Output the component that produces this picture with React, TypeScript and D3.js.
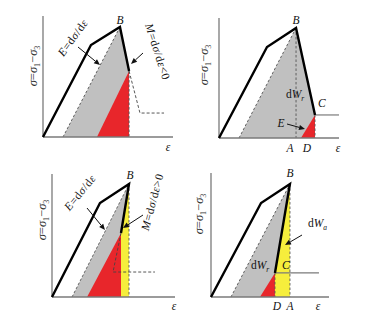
import React from "react";
import * as d3 from "d3";

type Pt = [number, number];

// Panel 1 (post-peak softening, M<0)
const p1Load: Pt[] = [[0, 0], [3.69, 7.6], [5.92, 9.09], [6.62, 5.45]];
const p1Tail: Pt[] = [[6.62, 5.45], [7.46, 1.98], [9.31, 1.98]];
const p1Gray: Pt[] = [[1.54, 0], [5.92, 9.09], [6.62, 5.45], [6.62, 0]];
const p1Red: Pt[] = [[4.15, 0], [6.62, 5.45], [6.62, 0]];
const p1Dash: Pt[][] = [[[1.54, 0], [5.92, 9.09]], [[6.62, 5.45], [6.62, 0]]];

// Panel 2 (B -> C, Class I)
const p2Load: Pt[] = [[0, 0], [4.0, 7.58], [6.42, 9.17], [8.0, 1.92]];
const p2Tail: Pt[] = [[8.0, 1.92], [10, 1.92]];
const p2Gray: Pt[] = [[1.67, 0], [6.42, 9.17], [8.0, 1.92], [8.0, 0]];
const p2Red: Pt[] = [[6.83, 0], [8.0, 1.92], [8.0, 0]];
const p2Dash: Pt[][] = [[[1.67, 0], [6.42, 9.17]], [[6.42, 9.17], [6.42, 0]], [[8.0, 1.92], [8.0, 0]]];

// Panel 3 (post-peak snap-back, M>0)
const p3Load: Pt[] = [[0, 0], [3.9, 7.64], [6.26, 9.19], [5.61, 5.2]];
const p3Tail: Pt[] = [[5.61, 5.2], [4.96, 2.03], [8.37, 2.03]];
const p3Gray: Pt[] = [[1.63, 0], [6.26, 9.19], [5.61, 5.2], [5.61, 0]];
const p3Red: Pt[] = [[2.85, 0], [5.61, 5.2], [5.61, 0]];
const p3Yellow: Pt[] = [[6.26, 9.19], [5.61, 5.2], [5.61, 0], [6.26, 0]];
const p3Dash: Pt[][] = [[[1.63, 0], [6.26, 9.19]], [[6.26, 9.19], [6.26, 0]]];

// Panel 4 (B -> C, Class II)
const p4Load: Pt[] = [[0, 0], [4.24, 7.58], [6.69, 9.11], [5.42, 1.94]];
const p4Tail: Pt[] = [[5.42, 1.94], [9.15, 1.94]];
const p4Gray: Pt[] = [[1.69, 0], [6.69, 9.11], [5.42, 1.94], [5.42, 0]];
const p4Red: Pt[] = [[4.15, 0], [5.42, 1.94], [5.42, 0]];
const p4Yellow: Pt[] = [[6.69, 9.11], [5.42, 1.94], [5.42, 0], [6.69, 0]];
const p4Dash: Pt[][] = [[[1.69, 0], [6.69, 9.11]], [[6.69, 9.11], [6.69, 0]], [[5.42, 1.94], [5.42, 0]]];

const SERIF = "'Liberation Serif', 'DejaVu Serif', serif";
const GRAY = "#c0c0c0";
const RED = "#e8262b";
const YELLOW = "#f6ee3c";
const AXIS = "#7a7a7a";

type Frame = { x0: number; x1: number; y0: number; y1: number };

const frames: Frame[] = [
  { x0: 43, x1: 173, y0: 137, y1: 16 },
  { x0: 219, x1: 339, y0: 138, y1: 18 },
  { x0: 52, x1: 175, y0: 297, y1: 174 },
  { x0: 211, x1: 329, y0: 297, y1: 173 },
];

function makeScales(f: Frame) {
  const x = d3.scaleLinear().domain([0, 10]).range([f.x0, f.x1]);
  const y = d3.scaleLinear().domain([0, 10]).range([f.y0, f.y1]);
  return { x, y };
}

function Arrow({ x1, y1, x2, y2 }: { x1: number; y1: number; x2: number; y2: number }) {
  const a = Math.atan2(y2 - y1, x2 - x1);
  const L = 6, W = 2.6;
  const bx = x2 - L * Math.cos(a), by = y2 - L * Math.sin(a);
  const p = `${x2},${y2} ${bx + W * Math.sin(a)},${by - W * Math.cos(a)} ${bx - W * Math.sin(a)},${by + W * Math.cos(a)}`;
  return (
    <g>
      <line x1={x1} y1={y1} x2={bx} y2={by} stroke="#111" strokeWidth={1} />
      <polygon points={p} fill="#111" />
    </g>
  );
}

function YLabel({ x, y }: { x: number; y: number }) {
  return (
    <text transform={`translate(${x},${y}) rotate(-90)`} textAnchor="middle" fontFamily={SERIF} fontSize={12.5} fill="#333">
      <tspan fontStyle="italic">σ</tspan>=<tspan fontStyle="italic">σ</tspan>
      <tspan fontSize={8} dy={3}>1</tspan>
      <tspan dy={-3}>−</tspan>
      <tspan fontStyle="italic">σ</tspan>
      <tspan fontSize={8} dy={3}>3</tspan>
    </text>
  );
}

function Panel({ f, load, tail, tailDashed, gray, red, yellow, dashes }: {
  f: Frame; load: Pt[]; tail: Pt[]; tailDashed: boolean; gray: Pt[]; red: Pt[]; yellow?: Pt[]; dashes: Pt[][];
}) {
  const { x, y } = makeScales(f);
  const line = d3.line<Pt>().x((d) => x(d[0])).y((d) => y(d[1]));
  const poly = (pts: Pt[]) => line(pts)! + "Z";
  return (
    <g>
      <path d={poly(gray)} fill={GRAY} />
      {yellow && <path d={poly(yellow)} fill={YELLOW} />}
      <path d={poly(red)} fill={RED} />
      {dashes.map((d, i) => (
        <path key={i} d={line(d)!} fill="none" stroke="#555" strokeWidth={0.9} strokeDasharray="2.5,2" />
      ))}
      <path d={line(tail)!} fill="none" stroke={tailDashed ? "#444" : AXIS} strokeWidth={tailDashed ? 0.9 : 1.2} strokeDasharray={tailDashed ? "3,2" : undefined} />
      <line x1={x(0)} y1={y(0)} x2={x(10)} y2={y(0)} stroke={AXIS} strokeWidth={1.3} />
      <line x1={x(0)} y1={y(0)} x2={x(0)} y2={y(10)} stroke={AXIS} strokeWidth={1.3} />
      <path d={line(load)!} fill="none" stroke="#000" strokeWidth={2.4} strokeLinejoin="miter" />
    </g>
  );
}

export default function App() {
  const it = { fontFamily: SERIF, fontStyle: "italic" as const, fontSize: 11.5, fill: "#111" };
  const rot = { fontFamily: SERIF, fontSize: 11.5, fill: "#111", letterSpacing: 0.6 };
  return (
    <svg width={368} height={321} style={{ position: "absolute", left: 0, top: 0, background: "#fff" }}>
      <rect width={368} height={321} fill="#fff" />
      <Panel f={frames[0]} load={p1Load} tail={p1Tail} tailDashed gray={p1Gray} red={p1Red} dashes={p1Dash} />
      <Panel f={frames[1]} load={p2Load} tail={p2Tail} tailDashed={false} gray={p2Gray} red={p2Red} dashes={p2Dash} />
      <Panel f={frames[2]} load={p3Load} tail={p3Tail} tailDashed gray={p3Gray} red={p3Red} yellow={p3Yellow} dashes={p3Dash} />
      <Panel f={frames[3]} load={p4Load} tail={p4Tail} tailDashed={false} gray={p4Gray} red={p4Red} yellow={p4Yellow} dashes={p4Dash} />

      <YLabel x={37} y={66} />
      <YLabel x={208} y={65} />
      <YLabel x={46} y={220} />
      <YLabel x={203} y={214} />

      {/* Panel 1 */}
      <text x={120} y={24} textAnchor="middle" {...it}>B</text>
      <text x={168} y={151} textAnchor="middle" {...it}>ε</text>
      <text transform="translate(76,40) rotate(-54)" textAnchor="middle" {...rot}>
        <tspan fontStyle="italic">E</tspan>=d<tspan fontStyle="italic">σ</tspan>/d<tspan fontStyle="italic">ε</tspan>
      </text>
      <text transform="translate(154,53) rotate(72)" textAnchor="middle" {...rot}>
        <tspan fontStyle="italic">M</tspan>=d<tspan fontStyle="italic">σ</tspan>/d<tspan fontStyle="italic">ε</tspan>&lt;0
      </text>
      <Arrow x1={78} y1={47} x2={100} y2={65} />
      <Arrow x1={143} y1={53} x2={131} y2={64} />

      {/* Panel 2 */}
      <text x={296} y={24} textAnchor="middle" {...it}>B</text>
      <text x={286} y={98} fontFamily={SERIF} fontSize={11.5} fill="#111">
        d<tspan fontStyle="italic">W</tspan><tspan fontSize={7.5} dy={3} fontStyle="italic">r</tspan>
      </text>
      <text x={318} y={107} {...it}>C</text>
      <text x={281} y={127} textAnchor="middle" {...it}>E</text>
      <Arrow x1={287} y1={124} x2={305} y2={129} />
      <text x={290} y={152} textAnchor="middle" {...it}>A</text>
      <text x={307} y={152} textAnchor="middle" {...it}>D</text>
      <text x={338} y={152} textAnchor="middle" {...it}>ε</text>

      {/* Panel 3 */}
      <text x={130} y={179} textAnchor="middle" {...it}>B</text>
      <text x={174} y={310} textAnchor="middle" {...it}>ε</text>
      <text transform="translate(83,195) rotate(-51)" textAnchor="middle" {...rot}>
        <tspan fontStyle="italic">E</tspan>=d<tspan fontStyle="italic">σ</tspan>/d<tspan fontStyle="italic">ε</tspan>
      </text>
      <text transform="translate(156,203) rotate(-75)" textAnchor="middle" {...rot}>
        <tspan fontStyle="italic">M</tspan>=d<tspan fontStyle="italic">σ</tspan>/d<tspan fontStyle="italic">ε</tspan>&gt;0
      </text>
      <Arrow x1={87} y1={208} x2={105} y2={230} />
      <Arrow x1={143} y1={215} x2={123} y2={228} />

      {/* Panel 4 */}
      <text x={290} y={177} textAnchor="middle" {...it}>B</text>
      <text x={308} y={227} fontFamily={SERIF} fontSize={11.5} fill="#111">
        d<tspan fontStyle="italic">W</tspan><tspan fontSize={7.5} dy={3} fontStyle="italic">a</tspan>
      </text>
      <Arrow x1={302} y1={235} x2={285} y2={245} />
      <text x={251} y={269} fontFamily={SERIF} fontSize={11.5} fill="#111">
        d<tspan fontStyle="italic">W</tspan><tspan fontSize={7.5} dy={3} fontStyle="italic">r</tspan>
      </text>
      <text x={282} y={269} {...it}>C</text>
      <text x={277} y={310} textAnchor="middle" {...it}>D</text>
      <text x={290} y={310} textAnchor="middle" {...it}>A</text>
      <text x={318} y={310} textAnchor="middle" {...it}>ε</text>
    </svg>
  );
}
